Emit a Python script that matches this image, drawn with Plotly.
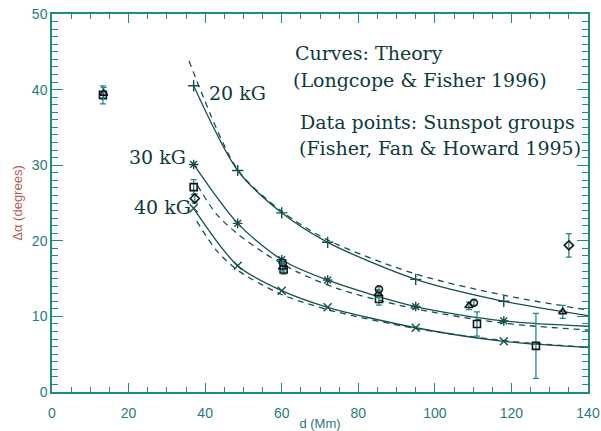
import plotly.graph_objects as go

# ---- theory curves (solid, with markers) ----
d_theory = [37.0, 48.5, 60.0, 72.0, 95.0, 118.0, 140.0]
theory_20kG = [40.5, 29.3, 23.7, 19.8, 14.9, 12.0, 10.1]
theory_30kG = [30.1, 22.3, 17.5, 14.8, 11.3, 9.4, 8.7]
theory_40kG = [24.3, 16.7, 13.4, 11.2, 8.5, 6.7, 5.9]

# ---- dashed curves ----
d_dash_20 = [35.8, 48.5, 60.0, 72.0, 95.0, 118.0, 140.0]
dash_20kG = [43.8, 29.4, 23.9, 20.1, 15.6, 12.8, 10.85]
d_dash_30 = [38.0, 43.0, 48.5, 56.0, 64.0, 75.0, 95.0, 118.0, 140.0]
dash_30kG = [27.3, 23.5, 20.9, 18.2, 15.9, 13.6, 11.0, 9.1, 8.2]
d_dash_40 = [37.8, 43.0, 48.5, 60.0, 72.0, 95.0, 118.0, 140.0]
dash_40kG = [22.6, 18.7, 16.1, 12.9, 10.9, 8.4, 6.8, 5.9]

# ---- data points ----
sq_x = [13.3, 37.0, 60.5, 85.4, 111.0, 126.4]
sq_y = [39.3, 27.1, 16.2, 12.3, 9.0, 6.1]
sq_err = [1.2, 1.0, 0.6, 0.8, 1.6, 4.3]
tri_x = [13.5, 60.2, 85.2, 108.9, 133.4]
tri_y = [39.5, 16.5, 13.0, 11.4, 10.6]
tri_err = [0.8, 0.5, 0.5, 0.5, 0.85]
circ_x = [60.3, 85.4, 110.2]
circ_y = [17.1, 13.6, 11.8]
circ_err = [0.3, 0.3, 0.3]
dia_x = [37.3, 135.0]
dia_y = [25.6, 19.4]
dia_err = [0.6, 1.55]

x_ticks = [0, 20, 40, 60, 80, 100, 120, 140]
y_ticks = [0, 10, 20, 30, 40, 50]

AX = "#1f8a8a"
CURVE = "#174f4f"
TXT = "#0e3a3a"
PT = "#151515"

fig = go.Figure()

for xs, ys, sym in [(d_theory, theory_20kG, "cross-thin"),
                    (d_theory, theory_30kG, "asterisk"),
                    (d_theory, theory_40kG, "x-thin")]:
    fig.add_trace(go.Scatter(x=xs, y=ys, mode="lines",
                             line=dict(color=CURVE, width=1.3, shape="spline", smoothing=0.8),
                             showlegend=False))
    fig.add_trace(go.Scatter(x=xs[:-1], y=ys[:-1], mode="markers",
                             marker=dict(symbol=sym, size=8, line=dict(color=CURVE, width=1.4)),
                             showlegend=False))

for xs, ys in [(d_dash_20, dash_20kG), (d_dash_30, dash_30kG), (d_dash_40, dash_40kG)]:
    fig.add_trace(go.Scatter(x=xs, y=ys, mode="lines",
                             line=dict(color=CURVE, width=1.3, dash="6px,5px", shape="spline", smoothing=0.8),
                             showlegend=False))

for xs, ys, es, sym in [(sq_x, sq_y, sq_err, "square-open"),
                        (tri_x, tri_y, tri_err, "triangle-up-open"),
                        (circ_x, circ_y, circ_err, "circle-open"),
                        (dia_x, dia_y, dia_err, "diamond-open")]:
    fig.add_trace(go.Scatter(x=xs, y=ys, mode="markers",
                             marker=dict(symbol=sym, size=7, color=PT, line=dict(color=PT, width=1.6)),
                             error_y=dict(type="data", array=es, visible=True, color=AX, thickness=1.3, width=3),
                             showlegend=False))

serif = "DejaVu Serif"
texts = [
    ("Curves: Theory", 62.9, 44.8, 19),
    ("(Longcope & Fisher 1996)", 62.4, 41.3, 19),
    ("Data points: Sunspot groups", 64.2, 35.7, 19),
    ("(Fisher, Fan & Howard 1995)", 64.0, 32.3, 19),
    ("20 kG", 40.5, 39.6, 19),
    ("30 kG", 19.6, 31.1, 19),
    ("40 kG", 20.8, 24.5, 19),
]
for t, x, y, s in texts:
    fig.add_annotation(text=t, x=x, y=y, xref="x", yref="y", xanchor="left", yanchor="middle",
                       showarrow=False, font=dict(family=serif, size=s, color=TXT))

tickfont = dict(family="Liberation Sans", size=14, color="#2b7a7a")
fig.update_layout(
    width=601, height=431,
    margin=dict(l=52, r=13, t=14, b=39, autoexpand=False),
    paper_bgcolor="white", plot_bgcolor="white",
    xaxis=dict(range=[0, 140], tickvals=x_ticks, ticks="inside", ticklen=9, tickwidth=1.3,
               tickcolor=AX, showline=True, linecolor=AX, linewidth=1.5, mirror="ticks",
               showgrid=False, zeroline=False, tickfont=tickfont, ticklabelstandoff=7,
               automargin=False,
               minor=dict(dtick=5, ticks="inside", ticklen=5, tickcolor=AX, tickwidth=1.2, showgrid=False),
               title=dict(text="d (Mm)", font=dict(family="Liberation Sans", size=13, color="#2b7a7a"), standoff=6)),
    yaxis=dict(range=[0, 50], tickvals=y_ticks, ticks="inside", ticklen=11, tickwidth=1.3,
               tickcolor=AX, showline=True, linecolor=AX, linewidth=1.5, mirror="ticks",
               showgrid=False, zeroline=False, tickfont=tickfont, automargin=False,
               minor=dict(dtick=1, ticks="inside", ticklen=6, tickcolor=AX, tickwidth=1.2, showgrid=False),
               title=dict(text="Δα (degrees)", font=dict(family="Liberation Sans", size=13, color="#b85a5a"), standoff=6)),
)

fig.write_html("out.html")
